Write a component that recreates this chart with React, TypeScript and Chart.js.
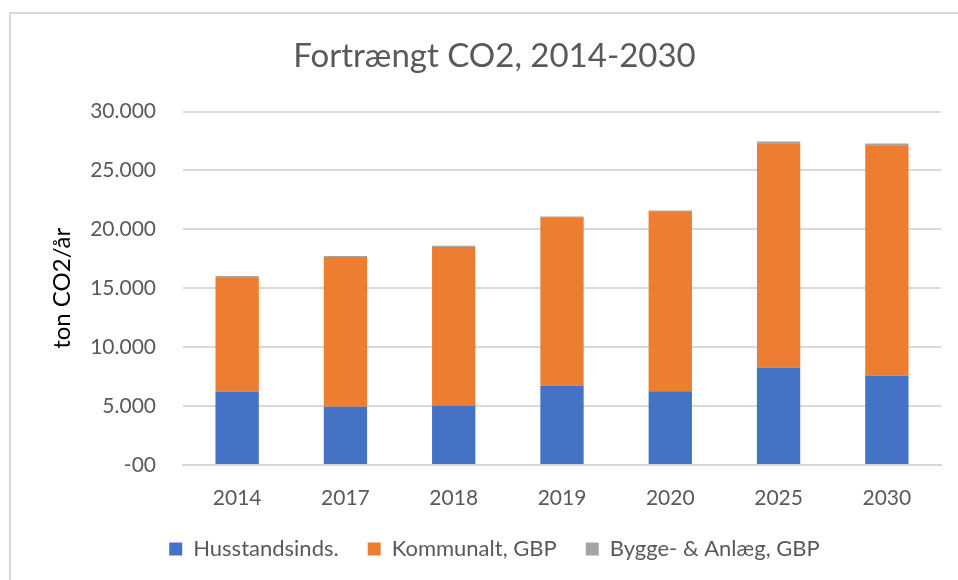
import React, { useEffect, useRef } from "react";
import { Chart, registerables } from "chart.js";

Chart.register(...registerables);

const categories = ["2014", "2017", "2018", "2019", "2020", "2025", "2030"];
const husstand = [6250, 4940, 5060, 6720, 6270, 8280, 7570];
const kommunalt = [9620, 12710, 13440, 14240, 15200, 18980, 19520];
const bygge = [170, 90, 120, 140, 140, 200, 200];
const seriesNames = ["Husstandsinds.", "Kommunalt, GBP", "Bygge- & Anlæg, GBP"];
const colors = ["#4472C4", "#ED7D31", "#A5A5A5"];

const FONT = "Lato, 'Open Sans', sans-serif";
const TEXT = "#595959";

function fmt(v: number): string {
  if (v === 0) return "-00";
  const s = Math.round(v).toString();
  return s.replace(/\B(?=(\d{3})+(?!\d))/g, ".");
}

const framePlugin = {
  id: "frame",
  beforeDraw(chart: any) {
    const ctx = chart.ctx;
    ctx.save();
    ctx.fillStyle = "#ffffff";
    ctx.fillRect(0, 0, chart.width, chart.height);
    ctx.strokeStyle = "#D9D9D9";
    ctx.lineWidth = 2;
    ctx.strokeRect(10, 13, chart.width + 20, chart.height + 20);
    ctx.restore();
  },
};

export default function App() {
  const ref = useRef<HTMLCanvasElement | null>(null);
  useEffect(() => {
    if (!ref.current) return;
    const chart = new Chart(ref.current, {
      type: "bar",
      data: {
        labels: categories,
        datasets: [husstand, kommunalt, bygge].map((d, i) => ({
          label: seriesNames[i],
          data: d,
          backgroundColor: colors[i],
          borderWidth: 0,
          barPercentage: 0.4,
          categoryPercentage: 1,
        })),
      },
      plugins: [framePlugin],
      options: {
        animation: false,
        responsive: false,
        maintainAspectRatio: false,
        layout: { padding: { left: 48, right: 17, top: 0, bottom: 10 } },
        plugins: {
          title: {
            display: true,
            text: "Fortrængt CO2, 2014-2030",
            color: TEXT,
            font: { family: FONT, size: 33, weight: "normal" as any, lineHeight: 1.2 },
            padding: { top: 37, bottom: 35 },
          },
          legend: {
            display: true,
            position: "bottom",
            labels: {
              color: TEXT,
              font: { family: FONT, size: 22 },
              boxWidth: 13,
              boxHeight: 13,
              padding: 29,
            },
          },
          tooltip: { enabled: false },
        },
        scales: {
          x: {
            stacked: true,
            afterFit: (s: any) => {
              s.height = 44;
            },
            grid: { display: false, drawTicks: false },
            border: { display: true, color: "#D9D9D9", width: 2 },
            ticks: { color: TEXT, font: { family: FONT, size: 21 }, padding: 21 },
          },
          y: {
            stacked: true,
            min: 0,
            max: 30000,
            afterFit: (s: any) => {
              s.width = 135;
            },
            grid: { color: "#D9D9D9", lineWidth: 2, drawTicks: false },
            border: { display: false },
            ticks: {
              stepSize: 5000,
              color: TEXT,
              font: { family: FONT, size: 21 },
              padding: 27,
              callback: (v: any) => fmt(Number(v)),
            },
            title: {
              display: true,
              text: "ton CO2/år",
              color: "#000000",
              font: { family: FONT, size: 24 },
              padding: 0,
            },
          },
        },
      },
    });
    return () => chart.destroy();
  }, []);
  return (
    <div style={{ position: "absolute", left: 0, top: 0, width: 958, height: 580 }}>
      <canvas ref={ref} width={958} height={580} style={{ width: 958, height: 580 }} />
    </div>
  );
}
